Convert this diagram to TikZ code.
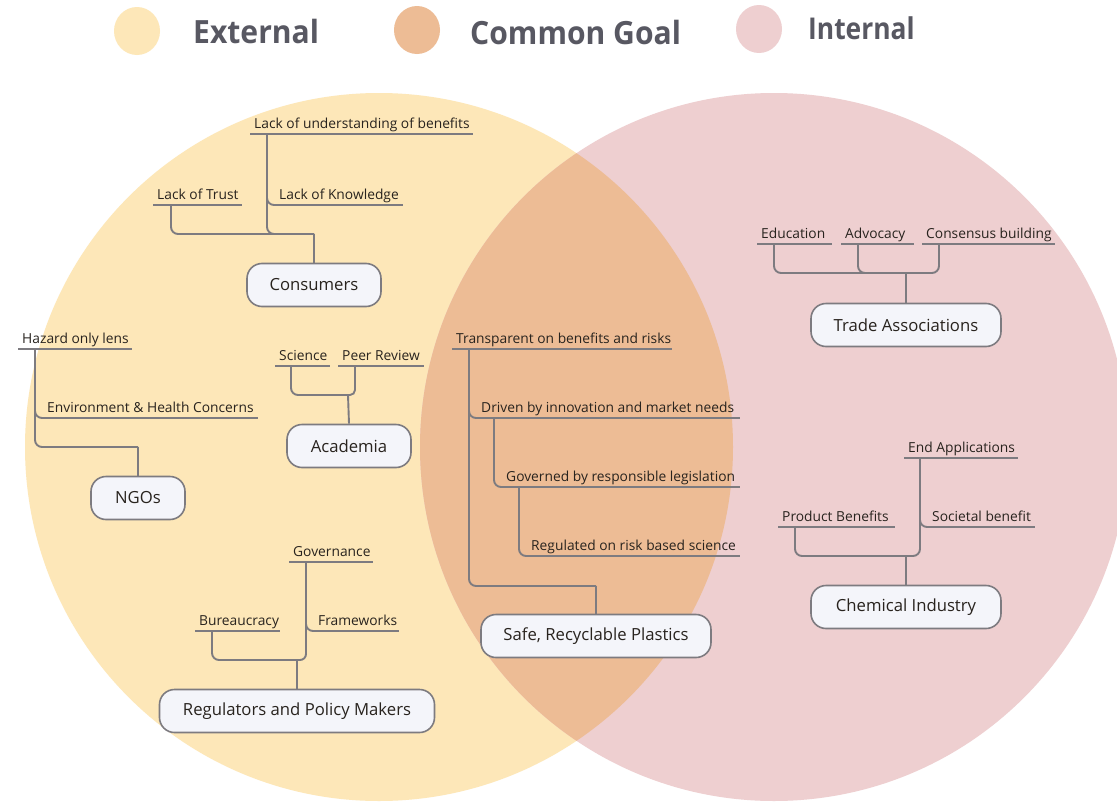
\documentclass[tikz,border=0pt]{standalone}
\usepackage{fontspec}
\setmainfont{Open Sans}
\newfontfamily\legendfont[FakeStretch=0.94]{Open Sans}
\newfontfamily\legendfontn[FakeStretch=0.88]{Open Sans}
\usetikzlibrary{calc}
\definecolor{extc}{RGB}{253,231,184}
\definecolor{intc}{RGB}{238,207,208}
\definecolor{commonc}{RGB}{237,188,149}
\definecolor{linec}{RGB}{125,123,128}
\definecolor{nodefill}{RGB}{244,245,250}
\definecolor{legtext}{RGB}{88,88,98}
\definecolor{txtc}{RGB}{40,35,30}
\tikzset{
  conn/.style={draw=linec, line width=1.9pt, rounded corners=7pt},
  uline/.style={draw=linec, line width=1.9pt},
  topic/.style={draw=linec, line width=1.6pt, fill=nodefill, rounded corners=15pt,
    minimum height=43pt, inner sep=0pt, text=txtc, font=\fontsize{16.7}{19}\selectfont},
  leaf/.style={anchor=south west, inner xsep=4pt, inner ysep=0pt, text height=11pt,
    text depth=5pt, text=txtc, font=\fontsize{13.8}{16}\selectfont,
    append after command={(\tikzlastnode.south west) edge[uline] ($(\tikzlastnode.south west)+(#1,0)$)}},
  legend/.style={anchor=west, inner sep=0pt, text=legtext, font=\legendfont\bfseries\fontsize{32}{38}\selectfont},
}
\begin{document}
\begin{tikzpicture}[x=1pt,y=-1pt]
\useasboundingbox (0,0) rectangle (1117,803);
\fill[white] (0,0) rectangle (1117,803);
\begin{scope}
\clip (0,0) rectangle (1117,803);
% Venn circles
\fill[extc] (379,447) circle (354pt);
\fill[intc] (774,447) circle (354pt);
\begin{scope}
  \clip (379,447) circle (354pt);
  \fill[commonc] (774,447) circle (354pt);
\end{scope}
\end{scope}

% legend
\fill[extc] (137,31) ellipse (23pt and 24pt);
\fill[commonc] (417,30) ellipse (23pt and 24pt);
\fill[intc] (759,29) ellipse (23pt and 24pt);
\node[legend] (lext) at (193,31.5) {External};
\node[legend] (lcom) at (470,32.5) {Common Goal};
\node[legend, font=\legendfontn\bfseries\fontsize{30}{36}\selectfont] (lint) at (808,28.5) {Internal};

% ---- Consumers
\node[topic, minimum width=134pt] (cons) at (314,285) {Consumers};
\node[leaf=223] (lou) at (250,134) {Lack of understanding of benefits};
\node[leaf=89] (lot) at (153,205) {Lack of Trust};
\node[leaf=128] (lok) at (275,205) {Lack of Knowledge};
\coordinate (jc) at (314,234);
\draw[conn] (cons.north) -- (jc);
\draw[conn] (jc) -| ($(lot.south west)+(18,0)$);
\draw[conn] (jc) -| ($(lou.south west)+(17,0)$);
\draw[conn] ($(lou.south west)+(17,60)$) |- (lok.south west);

% ---- NGOs
\node[topic, minimum width=94pt] (ngo) at (138,498) {NGOs};
\node[leaf=114] (hol) at (18,349) {Hazard only lens};
\node[leaf=215] (ehc) at (43,418) {Environment \& Health Concerns};
\coordinate (jn) at (138,447);
\draw[conn] (ngo.north) -- (jn);
\draw[conn] (jn) -| ($(hol.south west)+(17,0)$);
\draw[conn] ($(hol.south west)+(17,60)$) |- (ehc.south west);

% ---- Academia
\node[topic, minimum width=124pt] (aca) at (349,446) {Academia};
\node[leaf=55] (sci) at (275,366) {Science};
\node[leaf=86] (pr) at (338,366) {Peer Review};
\coordinate (ja) at (348,395);
\draw[conn] (aca.north) -- (ja);
\draw[conn] (ja) -| ($(sci.south west)+(16,0)$);
\draw[conn, rounded corners=5pt] (ja) -| ($(pr.south west)+(17,0)$);

% ---- Regulators
\node[topic, minimum width=275pt] (reg) at (297,711) {Regulators and Policy Makers};
\node[leaf=84] (gov) at (289,562) {Governance};
\node[leaf=85] (bur) at (195,631) {Bureaucracy};
\node[leaf=85] (fw) at (314,631) {Frameworks};
\coordinate (jr) at (297,660);
\draw[conn] (reg.north) -- (jr);
\draw[conn] (jr) -| ($(bur.south west)+(17,0)$);
\draw[conn, rounded corners=6pt] (jr) -| ($(gov.south west)+(17,0)$);
\draw[conn] ($(gov.south west)+(17,60)$) |- (fw.south west);

% ---- Safe, Recyclable Plastics
\node[topic, minimum width=230pt] (safe) at (596,636) {Safe, Recyclable Plastics};
\node[leaf=220] (tr) at (452,349) {Transparent on benefits and risks};
\node[leaf=263] (dr) at (477,418) {Driven by innovation and market needs};
\node[leaf=238] (gv) at (502,487) {Governed by responsible legislation};
\node[leaf=213] (rg) at (527,556) {Regulated on risk based science};
\coordinate (js) at (596,586);
\draw[conn] (safe.north) -- (js);
\draw[conn] (js) -| ($(tr.south west)+(17,0)$);
\draw[conn] ($(tr.south west)+(17,60)$) |- (dr.south west);
\draw[conn] ($(dr.south west)+(17,0)$) |- (gv.south west);
\draw[conn] ($(gv.south west)+(17,0)$) |- (rg.south west);

% ---- Trade Associations
\node[topic, minimum width=190pt] (trade) at (906,325) {Trade Associations};
\node[leaf=75] (edu) at (757,244) {Education};
\node[leaf=73] (adv) at (841,244) {Advocacy};
\node[leaf=133] (cb) at (922,244) {Consensus building};
\coordinate (jt) at (906,273);
\draw[conn] (trade.north) -- (jt);
\draw[conn] (jt) -| ($(edu.south west)+(17,0)$);
\draw[conn] (jt) -| ($(adv.south west)+(17,0)$);
\draw[conn] (jt) -| ($(cb.south west)+(17,0)$);

% ---- Chemical Industry
\node[topic, minimum width=190pt] (chem) at (906,607) {Chemical Industry};
\node[leaf=114] (ea) at (904,458) {End Applications};
\node[leaf=117] (pb) at (778,527) {Product Benefits};
\node[leaf=107] (sb) at (928,527) {Societal benefit};
\coordinate (jch) at (906,556);
\draw[conn] (chem.north) -- (jch);
\draw[conn] (jch) -| ($(pb.south west)+(17,0)$);
\draw[conn] (jch) -| ($(ea.south west)+(16,0)$);
\draw[conn] ($(ea.south west)+(16,60)$) |- (sb.south west);
\end{tikzpicture}
\end{document}
